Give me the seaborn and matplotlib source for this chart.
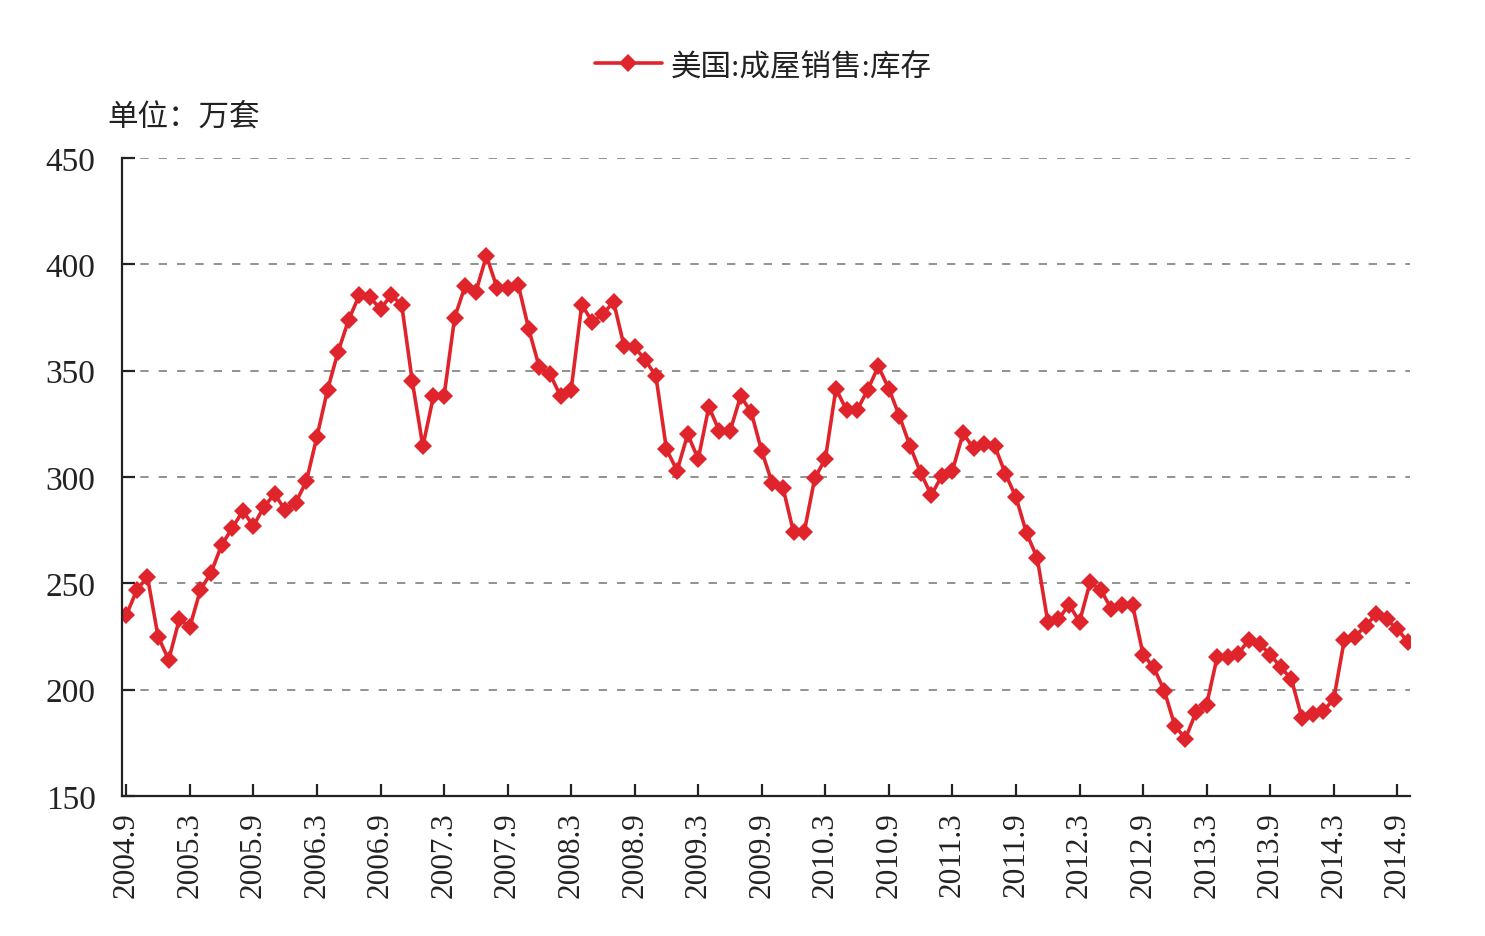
import numpy as np
import pandas as pd
import matplotlib
matplotlib.use("Agg")
import matplotlib.pyplot as plt
import seaborn as sns

# 美国成屋销售库存，月度，2004.9 - 2014.10（单位：万套）
inventory = [
    235, 247, 253, 225, 214, 233, 229.5, 247, 255, 268, 276, 284,
    277, 286, 292, 284.5, 288, 298, 319, 341, 359, 374, 385.5, 384.5,
    379, 385.5, 381, 345, 314.5, 338, 338, 375, 390, 387, 404, 389,
    389, 390.5, 369.5, 351.5, 348.5, 338, 341, 381, 373, 376.5, 382.5, 361.5,
    361, 355, 347.5, 313, 303, 320, 308.5, 333, 321.5, 321.5, 338, 330.5,
    312, 297, 295, 274, 274, 299.5, 308.5, 341.5, 331.5, 331.5, 341, 352,
    341.5, 328.5, 314.5, 302, 291.5, 300.5, 303, 320.5, 313.5, 315.5, 314.5, 301.5,
    290.5, 273.5, 262, 232, 233, 240, 232, 250.5, 247, 238, 240, 240,
    216.5, 210.5, 199.5, 183, 177, 189.5, 193, 215.5, 215.5, 217, 223.5, 221.5,
    216.5, 210.5, 205, 186.5, 188.5, 190, 195.5, 223.5, 225, 230, 235.5, 233,
    228.5, 222.5,
]
tick_labels = [
    "2004.9", "2005.3", "2005.9", "2006.3", "2006.9", "2007.3", "2007.9",
    "2008.3", "2008.9", "2009.3", "2009.9", "2010.3", "2010.9", "2011.3",
    "2011.9", "2012.3", "2012.9", "2013.3", "2013.9", "2014.3", "2014.9",
]
series_name = "美国:成屋销售:库存"

df = pd.DataFrame({"idx": np.arange(len(inventory)), "value": inventory})

sns.set_style("white")
plt.rcParams["font.family"] = ["Liberation Serif", "Noto Sans CJK SC"]

fig = plt.figure(figsize=(14.85, 9.37), dpi=100)
ax = fig.add_axes([0.0822, 0.1494, 0.8673, 0.6809])

red = "#E0242C"
sns.lineplot(data=df, x="idx", y="value", ax=ax, color=red, linewidth=2.6,
             marker="D", markersize=9, markeredgewidth=0, label=series_name)

ax.set_xlim(-0.4, 121.2)
ax.set_ylim(150, 450)
ax.set_yticks(range(150, 451, 50))
ax.set_xticks(np.arange(0, len(tick_labels) * 6, 6))
ax.set_xticklabels(tick_labels, rotation=90)
ax.set_xlabel("")
ax.set_ylabel("")

for y in range(200, 451, 50):
    ax.axhline(y, color="#7f7f7f", linewidth=1.2, linestyle=(0, (5, 6)), zorder=0)

for side in ["top", "right"]:
    ax.spines[side].set_visible(False)
for side in ["left", "bottom"]:
    ax.spines[side].set_color("#222222")
    ax.spines[side].set_linewidth(1.6)

ax.tick_params(axis="both", direction="in", length=9, width=1.6, color="#222222",
               labelcolor="#222222", bottom=True, left=True)
ax.tick_params(axis="y", pad=19, labelsize=24)
ax.tick_params(axis="x", pad=11, labelsize=22.5)

leg = ax.legend(loc="center", bbox_to_anchor=(0.514, 0.928), bbox_transform=fig.transFigure,
                frameon=False, fontsize=22, handlelength=2.2, handletextpad=0.3)
for t in leg.get_texts():
    t.set_color("#222222")

fig.text(0.072, 0.875, "单位：万套", fontsize=22, color="#222222",
         family=["Noto Sans CJK SC", "Liberation Serif"], va="center", ha="left")

fig.savefig("out.png", dpi=100)
